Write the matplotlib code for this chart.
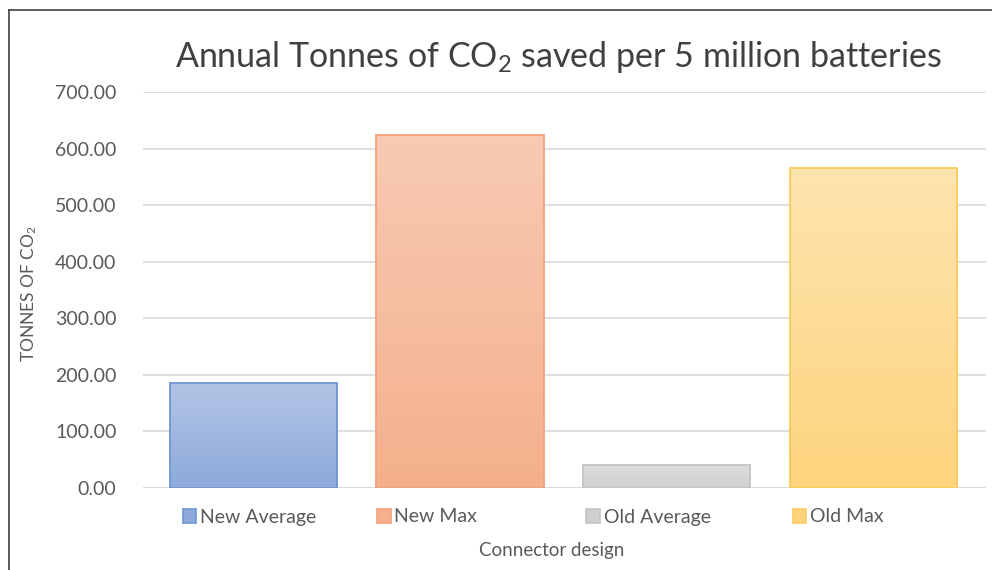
import numpy as np
import matplotlib.pyplot as plt
from matplotlib.colors import LinearSegmentedColormap
from matplotlib.patches import Rectangle

# data
designs = ["New Average", "New Max", "Old Average", "Old Max"]
tonnes = [185, 624, 40, 566]
yticks = [0, 100, 200, 300, 400, 500, 600, 700]

# fill gradients (top, bottom) and edges
tops = ["#b2c4e6", "#f8cab3", "#dedede", "#fde4ae"]
bottoms = ["#8eaadb", "#f4b08c", "#cfcfcf", "#fdd47e"]
edges = ["#6e95d2", "#f2a27c", "#c4c4c4", "#f9cc5e"]

plt.rcParams["font.family"] = ["Lato", "DejaVu Sans"]
plt.rcParams["mathtext.fontset"] = "custom"
plt.rcParams["mathtext.rm"] = "Lato"
plt.rcParams["mathtext.it"] = "Lato"

fig = plt.figure(figsize=(9.92, 5.70), dpi=100)
ax = fig.add_axes([0.144, 0.144, 0.850, 0.694])

x = np.arange(len(designs))
bars = ax.bar(x, tonnes, width=0.81, color="none", edgecolor=edges,
              linewidth=1.3, zorder=3)

# vertical gradient inside each bar
for b, top, bot in zip(bars, tops, bottoms):
    cmap = LinearSegmentedColormap.from_list("g", [bot, top])
    grad = np.linspace(0, 1, 64).reshape(-1, 1)
    im = ax.imshow(grad, cmap=cmap, aspect="auto", origin="lower",
                   extent=(b.get_x(), b.get_x() + b.get_width(), 0, b.get_height()),
                   zorder=2)
    im.set_clip_path(b)

ax.set_xlim(-0.535, 3.545)
ax.set_ylim(0, 700)
ax.set_yticks(yticks)
ax.set_yticklabels([f"{v:.2f}" for v in yticks], fontsize=14, color="#595959")
ax.set_xticks([])
ax.tick_params(axis="y", length=0, pad=19)
ax.grid(axis="y", color="#d9d9d9", linewidth=1.2, zorder=0)
for s in ax.spines.values():
    s.set_visible(False)
ax.axhline(0, color="#d9d9d9", linewidth=1.2, zorder=1)

fig.text(0.563, 0.90, "Annual Tonnes of CO$_2$ saved per 5 million batteries",
         ha="center", va="center", fontsize=24.5, color="#404040")
fig.text(0.029, 0.485, "TONNES OF CO$_2$", rotation=90, ha="center", va="center",
         fontsize=12.5, color="#595959")
fig.text(0.556, 0.035, "Connector design", ha="center", va="center",
         fontsize=13.5, color="#595959")

# one legend entry per slot, like the Excel legend
slots = [0.184, 0.380, 0.591, 0.799]
for i, (name, sx) in enumerate(zip(designs, slots)):
    h = Rectangle((0, 0), 1, 1, facecolor=bottoms[i], edgecolor=edges[i], linewidth=1.2)
    leg = fig.legend([h], [name], loc="center left", bbox_to_anchor=(sx, 1 - 517 / 570),
                     frameon=False, fontsize=14, handlelength=0.7, handleheight=0.7,
                     handletextpad=0.2, borderpad=0, borderaxespad=0)
    for t in leg.get_texts():
        t.set_color("#595959")

# partial border as in the reference crop
fig.add_artist(plt.Line2D([0.009, 0.009], [0, 0.982], color="#404040", linewidth=1.2))
fig.add_artist(plt.Line2D([0.009, 1.0], [0.982, 0.982], color="#404040", linewidth=1.2))

fig.savefig("out.png", dpi=100)
